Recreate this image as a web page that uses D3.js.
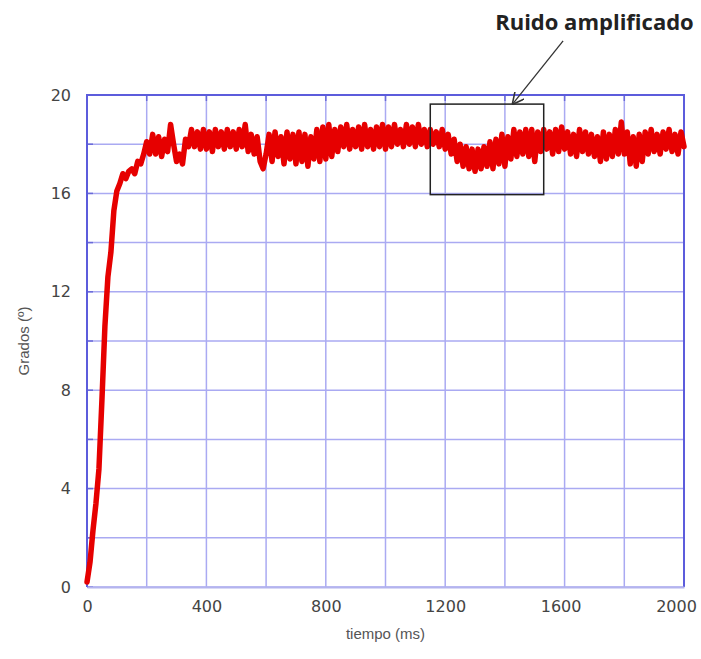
<!DOCTYPE html>
<html>
<head>
<meta charset="utf-8">
<script src="https://cdn.jsdelivr.net/npm/d3@7"></script>
<style>
	body { margin: 0; background: #fff; }
	svg { display: block; }
</style>
</head>
<body>
<div id="chart"></div>
<script>
// tiempo (ms), one sample every 10 ms
const tiempo = d3.range(0, 2001, 10)

// grados, rise then noisy plateau
const grados = [
	0.2, 1.0, 2.3, 3.4, 4.8, 7.6, 10.6, 12.6, 13.6, 15.3,
	16.1, 16.4, 16.8, 16.6, 16.9, 17.0, 16.8, 17.3, 17.2, 17.6,
	18.1, 17.6, 18.4, 17.6, 18.3, 17.5, 18.2, 17.7, 18.8, 18.0,
	17.3, 17.6, 17.2, 18.2, 17.9, 18.6, 17.9, 18.5, 17.8, 18.6,
	17.8, 18.5, 17.7, 18.6, 17.9, 18.5, 17.8, 18.6, 17.9, 18.5,
	17.8, 18.6, 17.9, 18.8, 17.7, 18.4, 17.6, 18.3, 17.3, 17.0,
	17.6, 18.4, 17.3, 18.5, 17.5, 18.3, 17.2, 18.5, 17.4, 18.4,
	17.2, 18.5, 17.3, 18.4, 17.1, 18.3, 17.4, 18.6, 17.3, 18.7,
	17.4, 18.8, 17.5, 18.6, 17.7, 18.7, 17.9, 18.8, 17.8, 18.6,
	17.9, 18.7, 17.8, 18.8, 17.9, 18.6, 17.8, 18.7, 17.9, 18.8,
	17.8, 18.7, 17.9, 18.8, 18.0, 18.6, 17.9, 18.8, 18.0, 18.7,
	17.9, 18.8, 18.0, 18.6, 17.9, 18.6, 18.0, 18.5, 17.9, 18.6,
	17.8, 18.4, 17.6, 18.2, 17.3, 18.0, 17.1, 17.9, 17.0, 17.8,
	16.9, 17.8, 17.0, 17.9, 17.1, 18.1, 17.0, 18.2, 17.2, 18.4,
	17.1, 18.3, 17.4, 18.6, 17.5, 18.5, 17.6, 18.6, 17.5, 18.6,
	17.3, 18.5, 17.7, 18.6, 17.8, 18.5, 17.6, 18.6, 17.7, 18.7,
	17.8, 18.5, 17.6, 18.4, 17.5, 18.6, 17.7, 18.5, 17.6, 18.4,
	17.5, 18.3, 17.3, 18.5, 17.4, 18.4, 17.5, 18.6, 17.6, 18.9,
	17.6, 18.5, 17.2, 18.3, 17.1, 18.4, 17.3, 18.5, 17.6, 18.6,
	17.7, 18.4, 17.6, 18.5, 17.8, 18.6, 17.7, 18.4, 17.6, 18.5,
	17.9
]

const xTicks = [0, 400, 800, 1200, 1600, 2000]
const yTicks = [0, 4, 8, 12, 16, 20]
const xGrid = d3.range(0, 2001, 200)
const yGrid = d3.range(0, 21, 2)

// annotation: box corners (ms, grados), arrow tail -> tip
const boxX = [1150, 1530]
const boxY = [15.95, 19.63]
const arrow = [[1595, 22.2], [1427, 19.65]]
const noteText = 'Ruido amplificado'
const notePos = [1700, 22.65]

const width = 701
const height = 659

const svg = d3.select('#chart').append('svg')
	.attr('width', width)
	.attr('height', height)

const x = d3.scaleLinear().domain([0, 2000]).range([87, 684])
const y = d3.scaleLinear().domain([0, 20]).range([587, 95])

// grid
svg.append('g').selectAll('line')
	.data(xGrid)
	.join('line')
	.attr('x1', d => x(d)).attr('x2', d => x(d))
	.attr('y1', y(0)).attr('y2', y(20))
	.attr('stroke', '#aaaaf2')
	.attr('stroke-width', 1.5)

svg.append('g').selectAll('line')
	.data(yGrid)
	.join('line')
	.attr('x1', x(0)).attr('x2', x(2000))
	.attr('y1', d => y(d)).attr('y2', d => y(d))
	.attr('stroke', '#aaaaf2')
	.attr('stroke-width', 1.5)

// small darker ticks on the frame
svg.append('g').selectAll('line')
	.data(yGrid)
	.join('line')
	.attr('x1', x(0)).attr('x2', x(0) + 6)
	.attr('y1', d => y(d)).attr('y2', d => y(d))
	.attr('stroke', '#6a6ad8')
	.attr('stroke-width', 1.5)

svg.append('g').selectAll('line')
	.data(xGrid)
	.join('line')
	.attr('x1', d => x(d)).attr('x2', d => x(d))
	.attr('y1', y(20)).attr('y2', y(20) + 6)
	.attr('stroke', '#6a6ad8')
	.attr('stroke-width', 1.5)

// frame
svg.append('path')
	.attr('d', `M${x(0)},${y(0)}V${y(20)}H${x(2000)}V${y(0)}`)
	.attr('fill', 'none')
	.attr('stroke', '#5c5cdc')
	.attr('stroke-width', 2)

// axes labels
const xAxis = d3.axisBottom(x).tickValues(xTicks).tickFormat(d3.format('d')).tickSize(0).tickPadding(14)
svg.append('g')
	.attr('transform', `translate(0,${y(0)})`)
	.call(xAxis)
	.call(g => g.select('.domain').attr('stroke', '#b4b4ee').attr('stroke-width', 2))
	.call(g => g.selectAll('text')
		.attr('fill', '#444')
		.attr('dx', d => d == 2000 ? -8 : (d == 1600 ? -4 : 0))
		.style('font-family', 'DejaVu Sans, sans-serif')
		.style('font-size', '16px'))

const yAxis = d3.axisLeft(y).tickValues(yTicks).tickFormat(d3.format('d')).tickSize(0).tickPadding(16)
svg.append('g')
	.attr('transform', `translate(${x(0)},0)`)
	.call(yAxis)
	.call(g => g.select('.domain').remove())
	.call(g => g.selectAll('text')
		.attr('fill', '#444')
		.style('font-family', 'DejaVu Sans, sans-serif')
		.style('font-size', '16px'))

svg.append('text')
	.attr('x', (x(0) + x(2000)) / 2)
	.attr('y', 639)
	.attr('text-anchor', 'middle')
	.attr('fill', '#555')
	.style('font-family', 'Liberation Sans, Arial, sans-serif')
	.style('font-size', '15px')
	.text('tiempo (ms)')

svg.append('text')
	.attr('transform', `translate(29,${(y(0) + y(20)) / 2}) rotate(-90)`)
	.attr('text-anchor', 'middle')
	.attr('fill', '#555')
	.style('font-family', 'Liberation Sans, Arial, sans-serif')
	.style('font-size', '15px')
	.text('Grados (º)')

// data line
const data = tiempo.map((t, i) => ({ t: t, v: grados[i] }))
const line = d3.line()
	.x(d => x(d.t))
	.y(d => y(d.v))

svg.append('path')
	.datum(data)
	.attr('d', line)
	.attr('fill', 'none')
	.attr('stroke', '#e60000')
	.attr('stroke-width', 5.5)
	.attr('stroke-linejoin', 'round')
	.attr('stroke-linecap', 'round')

// annotation box
svg.append('rect')
	.attr('x', x(boxX[0]))
	.attr('y', y(boxY[1]))
	.attr('width', x(boxX[1]) - x(boxX[0]))
	.attr('height', y(boxY[0]) - y(boxY[1]))
	.attr('fill', 'none')
	.attr('stroke', '#222')
	.attr('stroke-width', 1.5)

// arrow
svg.append('defs').append('marker')
	.attr('id', 'head')
	.attr('viewBox', '0 0 10 10')
	.attr('refX', 9).attr('refY', 5)
	.attr('markerWidth', 12).attr('markerHeight', 12)
	.attr('markerUnits', 'userSpaceOnUse')
	.attr('orient', 'auto')
	.append('path')
	.attr('d', 'M0,0L10,5L0,10')
	.attr('fill', 'none')
	.attr('stroke', '#333')
	.attr('stroke-width', 1.3)

svg.append('line')
	.attr('x1', x(arrow[0][0])).attr('y1', y(arrow[0][1]))
	.attr('x2', x(arrow[1][0])).attr('y2', y(arrow[1][1]))
	.attr('stroke', '#333')
	.attr('stroke-width', 1.3)
	.attr('marker-end', 'url(#head)')

svg.append('text')
	.attr('x', x(notePos[0]))
	.attr('y', y(notePos[1]))
	.attr('text-anchor', 'middle')
	.attr('fill', '#222')
	.style('font-family', 'Open Sans, sans-serif')
	.style('font-weight', 'bold')
	.style('font-size', '22px')
	.text(noteText)
</script>
</body>
</html>
